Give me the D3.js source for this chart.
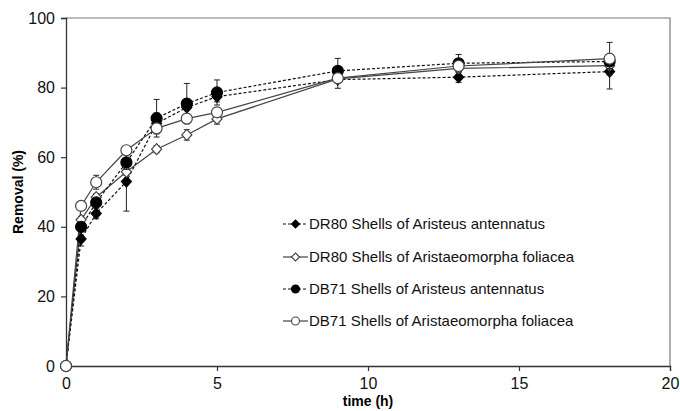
<!DOCTYPE html>
<html><head><meta charset="utf-8">
<script src="https://cdn.jsdelivr.net/npm/d3@7"></script>
<style>body{margin:0;background:#fff}svg{display:block}text{font-family:"Liberation Sans",Arial,sans-serif}</style>
</head><body><svg id="c" width="680" height="411"></svg>
<script>
const times = [0, 0.5, 1, 2, 3, 4, 5, 9, 13, 18];
const dr80A = [0, 36.5, 43.8, 53, 69.7, 74.3, 77.4, 82.3, 83, 84.6];
const dr80F = [0, 42, 48.5, 55.8, 62.3, 66.4, 71, 82.5, 85.5, 86.3];
const db71A = [0, 40, 47, 58.5, 71.2, 75.4, 78.6, 84.8, 87, 87.5];
const db71F = [0, 46, 52.8, 62, 68.3, 71.1, 72.9, 82.7, 86.2, 88.3];
const dr80AErr = [0, 2, 1.5, 8.5, 3, 2, 1.5, 2.5, 1.5, 5];
const dr80FErr = [0, 1, 1, 1, 1, 1.5, 1.5, 1, 1, 1];
const db71AErr = [0, 1, 1, 2, 5.4, 5.8, 3.6, 3.6, 2.5, 2];
const db71FErr = [0, 1, 2, 1, 1, 1, 1, 1, 1, 4.7];
const seriesNames = ["DR80 Shells of Aristeus antennatus", "DR80 Shells of Aristaeomorpha foliacea", "DB71 Shells of Aristeus antennatus", "DB71 Shells of Aristaeomorpha foliacea"];
const xTicks = [0, 5, 10, 15, 20];
const yTicks = [0, 20, 40, 60, 80, 100];

const series = [
  {name: seriesNames[0], v: dr80A, e: dr80AErr, shape: "diamond", filled: true, dashed: true},
  {name: seriesNames[1], v: dr80F, e: dr80FErr, shape: "diamond", filled: false, dashed: false},
  {name: seriesNames[2], v: db71A, e: db71AErr, shape: "circle", filled: true, dashed: true},
  {name: seriesNames[3], v: db71F, e: db71FErr, shape: "circle", filled: false, dashed: false}
];

const svg = d3.select("#c");
const L = 66, R = 670, T = 18, B = 366;
const x = d3.scaleLinear().domain([0, 20]).range([L, R]);
const y = d3.scaleLinear().domain([0, 100]).range([B, T]);

svg.append("path").attr("d", `M${L},${T}H${R}V${B}`).attr("fill", "none").attr("stroke", "#777").attr("stroke-width", 1.2);

const xa = svg.append("g").attr("transform", `translate(0,${B})`)
  .call(d3.axisBottom(x).tickValues(xTicks).tickSize(5).tickPadding(7).tickFormat(d3.format("d")));
const ya = svg.append("g").attr("transform", `translate(${L},0)`)
  .call(d3.axisLeft(y).tickValues(yTicks).tickSize(5).tickPadding(6).tickFormat(d3.format("d")));
[xa, ya].forEach(a => {
  a.select(".domain").attr("stroke", "#333").attr("stroke-width", 1.3);
  a.selectAll(".tick line").attr("stroke", "#333").attr("stroke-width", 1.2);
  a.selectAll(".tick text").attr("font-size", 16).attr("fill", "#111").style("font-family", "Liberation Sans, Arial, sans-serif");
});

svg.append("text").attr("x", (L + R) / 2).attr("y", 406).attr("text-anchor", "middle")
  .attr("font-size", 14).attr("font-weight", "bold").text("time (h)");
svg.append("text").attr("transform", `translate(23,${(T + B) / 2}) rotate(-90)`).attr("text-anchor", "middle")
  .attr("font-size", 14).attr("font-weight", "bold").text("Removal (%)");

function marker(g, s, cx, cy) {
  const fill = s.filled ? "#000" : "#fff";
  const stroke = s.filled ? "#000" : "#444";
  if (s.shape === "circle") {
    g.append("circle").attr("cx", cx).attr("cy", cy).attr("r", 5.5).attr("fill", fill).attr("stroke", stroke).attr("stroke-width", 1.2);
  } else {
    const w = 5, h = 5.5;
    g.append("path").attr("d", `M${cx},${cy - h}L${cx + w},${cy}L${cx},${cy + h}L${cx - w},${cy}Z`)
      .attr("fill", fill).attr("stroke", stroke).attr("stroke-width", 1.2);
  }
}

const line = d3.line().x(d => x(d[0])).y(d => y(d[1]));
const plot = svg.append("g");
series.forEach(s => {
  const pts = times.map((t, i) => [t, s.v[i]]);
  plot.append("path").attr("d", line(pts)).attr("fill", "none")
    .attr("stroke", s.dashed ? "#111" : "#444").attr("stroke-width", 1.2)
    .attr("stroke-dasharray", s.dashed ? "3,2" : null);
});
series.forEach(s => {
  const g = plot.append("g");
  times.forEach((t, i) => {
    const e = s.e[i];
    if (e > 0) {
      const cx = x(t), y1 = y(s.v[i] - e), y2 = y(s.v[i] + e);
      g.append("path").attr("d", `M${cx},${y1}V${y2}M${cx - 3},${y1}H${cx + 3}M${cx - 3},${y2}H${cx + 3}`)
        .attr("stroke", "#222").attr("stroke-width", 1).attr("fill", "none");
    }
  });
  times.forEach((t, i) => marker(g, s, x(t), y(s.v[i])));
});

const leg = svg.append("g");
const rowY = [224, 257, 289, 321];
series.forEach((s, i) => {
  const yy = rowY[i];
  leg.append("line").attr("x1", 283).attr("x2", 308).attr("y1", yy).attr("y2", yy)
    .attr("stroke", s.dashed ? "#111" : "#444").attr("stroke-width", 1.2)
    .attr("stroke-dasharray", s.dashed ? "3,2" : null);
  const g = leg.append("g");
  if (s.shape === "circle") {
    g.append("circle").attr("cx", 295.5).attr("cy", yy).attr("r", 4).attr("fill", s.filled ? "#000" : "#fff").attr("stroke", s.filled ? "#000" : "#444").attr("stroke-width", 1.1);
  } else {
    g.append("path").attr("d", `M295.5,${yy - 4}L299.5,${yy}L295.5,${yy + 4}L291.5,${yy}Z`).attr("fill", s.filled ? "#000" : "#fff").attr("stroke", s.filled ? "#000" : "#444").attr("stroke-width", 1.1);
  }
  leg.append("text").attr("x", 309).attr("y", yy + 5).attr("font-size", 15).attr("fill", "#111").text(s.name);
});
</script></body></html>
